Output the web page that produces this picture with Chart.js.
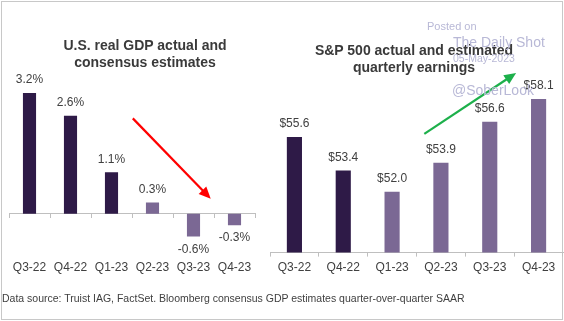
<!DOCTYPE html>
<html>
<head>
<meta charset="utf-8">
<script src="https://cdn.jsdelivr.net/npm/chart.js@4.4.1/dist/chart.umd.min.js"></script>
<style>
    html, body { margin: 0; padding: 0; background: #fff; }
    #wrap {
        position: relative; width: 564px; height: 321px; overflow: hidden;
        font-family: "Liberation Sans", Arial, sans-serif; color: #404040;
    }
    #frame {
        position: absolute; left: 1px; top: 1px; width: 560px; height: 317px;
        border: 1px solid #c8c8c8;
    }
    canvas { position: absolute; left: 0; top: 0; }
    .title {
        position: absolute; font-weight: bold; font-size: 14px; line-height: 17px;
        text-align: center; color: #3a3a3a;
    }
    .mark { position: absolute; color: #b8b8d6; white-space: nowrap; }
    #note { position: absolute; left: 2px; top: 292px; font-size: 10.5px; white-space: nowrap; }
</style>
</head>
<body>
<div id="wrap">
    <div id="frame"></div>
    <canvas id="gdpChart" width="564" height="321"></canvas>
    <canvas id="epsChart" width="564" height="321"></canvas>
    <div class="title" style="left:45px; top:37px; width:200px;">U.S. real GDP actual and<br>consensus estimates</div>
    <div class="title" style="left:300px; top:42px; width:228px;">S&amp;P 500 actual and estimated<br>quarterly earnings</div>
    <div class="mark" style="left:427px; top:20px; font-size:11px;">Posted on</div>
    <div class="mark" style="left:453px; top:34px; font-size:14px;">The Daily Shot</div>
    <div class="mark" style="left:453px; top:52px; font-size:10.5px;">05-May-2023</div>
    <div class="mark" style="left:452px; top:82px; font-size:14px;">@SoberLook</div>
    <div id="note">Data source: Truist IAG, FactSet. Bloomberg consensus GDP estimates quarter-over-quarter SAAR</div>
</div>

<script>
// 四半期ラベル
const quarters = ['Q3-22', 'Q4-22', 'Q1-23', 'Q2-23', 'Q3-23', 'Q4-23'];

// 実質GDP（前期比年率, %）: 最初の3つが実績、残りが予想
const gdpValues = [3.2, 2.6, 1.1, 0.3, -0.6, -0.3];
const gdpActualCount = 3;

// S&P500 四半期EPS（ドル）: 最初の2つが実績、残りが予想
const epsValues = [55.6, 53.4, 52.0, 53.9, 56.6, 58.1];
const epsActualCount = 2;

// 矢印の始点・終点（カテゴリ位置, 値）
const gdpArrow = { from: [2.52, 2.53], to: [4.42, 0.4], color: '#ff0000' };
const epsArrow = { from: [2.66, 55.8], to: [4.54, 59.8], color: '#1db04b' };

const DARK = '#2e1a47';
const LIGHT = '#7b6894';
const FONT = '"Liberation Sans", Arial, sans-serif';

const barColors = (n, actual) => Array.from({ length: n }, (_, i) => i < actual ? DARK : LIGHT);

// 棒の上（マイナスは下）に値を描く
const valueLabels = {
    id: 'valueLabels',
    afterDatasetsDraw(chart, args, opts) {
        const ctx = chart.ctx;
        const meta = chart.getDatasetMeta(0);
        const data = chart.data.datasets[0].data;
        ctx.save();
        ctx.font = '12px ' + FONT;
        ctx.fillStyle = '#404040';
        ctx.textAlign = 'center';
        ctx.textBaseline = 'middle';
        meta.data.forEach((bar, i) => {
            const v = data[i];
            const y = v >= 0 ? bar.y - opts.gap : bar.y + opts.gap;
            ctx.fillText(opts.format(v), bar.x, y);
        });
        ctx.restore();
    }
};

// トレンドの矢印
const trendArrow = {
    id: 'trendArrow',
    afterDatasetsDraw(chart, args, opts) {
        const { x, y } = chart.scales;
        const x1 = x.getPixelForValue(opts.from[0]);
        const y1 = y.getPixelForValue(opts.from[1]);
        const x2 = x.getPixelForValue(opts.to[0]);
        const y2 = y.getPixelForValue(opts.to[1]);
        const ang = Math.atan2(y2 - y1, x2 - x1);
        const head = 13;
        const ctx = chart.ctx;
        ctx.save();
        ctx.strokeStyle = opts.color;
        ctx.fillStyle = opts.color;
        ctx.lineWidth = 2.2;
        ctx.beginPath();
        ctx.moveTo(x1, y1);
        ctx.lineTo(x2 - Math.cos(ang) * head * 0.8, y2 - Math.sin(ang) * head * 0.8);
        ctx.stroke();
        ctx.beginPath();
        ctx.moveTo(x2, y2);
        ctx.lineTo(x2 - head * Math.cos(ang - 0.42), y2 - head * Math.sin(ang - 0.42));
        ctx.lineTo(x2 - head * Math.cos(ang + 0.42), y2 - head * Math.sin(ang + 0.42));
        ctx.closePath();
        ctx.fill();
        ctx.restore();
    }
};

const tickFont = { family: FONT, size: 12 };

// GDPグラフ
function drawGdpChart() {
    new Chart(document.getElementById('gdpChart'), {
        type: 'bar',
        data: {
            labels: quarters,
            datasets: [{
                data: gdpValues,
                backgroundColor: barColors(gdpValues.length, gdpActualCount),
                categoryPercentage: 1,
                barPercentage: 0.32
            }]
        },
        options: {
            responsive: false,
            animation: false,
            layout: { padding: { left: 9, right: 309, top: 78, bottom: 45 } },
            plugins: {
                legend: { display: false },
                tooltip: { enabled: false },
                valueLabels: { gap: 13, format: v => v.toFixed(1) + '%' },
                trendArrow: gdpArrow
            },
            scales: {
                // ゼロの位置の軸線と目盛り
                x: {
                    position: { y: 0 },
                    offset: true,
                    grid: { drawOnChartArea: false, drawTicks: true, tickLength: 4, color: '#bfbfbf', offset: true },
                    border: { display: true, color: '#bfbfbf' },
                    ticks: { display: false }
                },
                // 下側のラベル
                x2: {
                    type: 'category',
                    labels: quarters,
                    position: 'bottom',
                    offset: true,
                    grid: { display: false },
                    border: { display: false },
                    ticks: { font: tickFont, color: '#404040', padding: 1, maxRotation: 0 }
                },
                y: { display: false, min: -1.0, max: 3.6 }
            }
        },
        plugins: [valueLabels, trendArrow]
    });
}

// EPSグラフ
function drawEpsChart() {
    new Chart(document.getElementById('epsChart'), {
        type: 'bar',
        data: {
            labels: quarters,
            datasets: [{
                data: epsValues,
                backgroundColor: barColors(epsValues.length, epsActualCount),
                categoryPercentage: 1,
                barPercentage: 0.31
            }]
        },
        options: {
            responsive: false,
            animation: false,
            layout: { padding: { left: 270, right: 1, top: 70, bottom: 43 } },
            plugins: {
                legend: { display: false },
                tooltip: { enabled: false },
                valueLabels: { gap: 13, format: v => '$' + v.toFixed(1) },
                trendArrow: epsArrow
            },
            scales: {
                x: {
                    offset: true,
                    grid: { drawOnChartArea: false, drawTicks: true, tickLength: 4, color: '#bfbfbf', offset: true },
                    border: { display: true, color: '#bfbfbf' },
                    ticks: { font: tickFont, color: '#404040', padding: 3.5, maxRotation: 0 }
                },
                y: { display: false, min: 48, max: 60 }
            }
        },
        plugins: [valueLabels, trendArrow]
    });
}

document.addEventListener('DOMContentLoaded', () => {
    drawGdpChart();
    drawEpsChart();
});
</script>
</body>
</html>
